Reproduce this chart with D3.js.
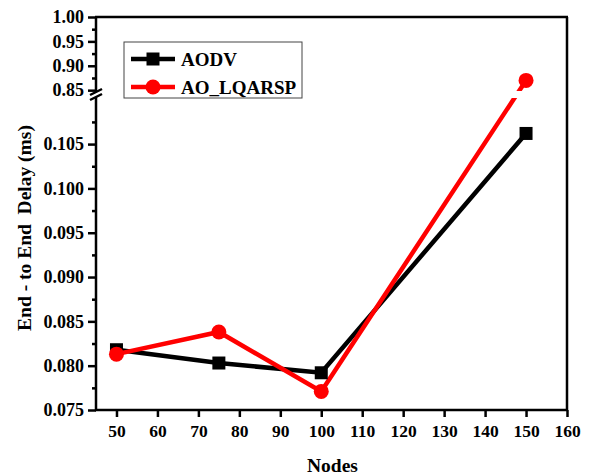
<!DOCTYPE html>
<html>
<head>
<meta charset="utf-8">
<script src="https://cdn.jsdelivr.net/npm/d3@7"></script>
<style>
  body { margin: 0; background: #fff; }
  svg text { font-family: 'Liberation Serif', 'Times New Roman', serif; font-weight: bold; }
</style>
</head>
<body>
<svg id="chart" width="590" height="476"></svg>
<script>
const nodes = [50, 75, 100, 150]
const aodv = [0.0818, 0.0803, 0.0792, 0.1062]
const aoLqarsp = [0.0813, 0.0838, 0.0771, 0.870]
const xTicks = [50, 60, 70, 80, 90, 100, 110, 120, 130, 140, 150, 160]
const lowTicks = [0.075, 0.080, 0.085, 0.090, 0.095, 0.100, 0.105]
const highTicks = [0.85, 0.90, 0.95, 1.00]

const svg = d3.select('#chart')
const pLeft = 96, pRight = 567, pTop = 17, pBottom = 410
const lowTop = 98, highBottom = 91

const x = d3.scaleLinear().domain([45, 160]).range([pLeft, pRight])
const yLow = d3.scaleLinear().domain([0.075, 0.1102]).range([pBottom, lowTop])
const yHigh = d3.scaleLinear().domain([0.8483, 1.0]).range([highBottom, pTop])
const y = v => v > 0.5 ? yHigh(v) : yLow(v)

const defs = svg.append('defs')
defs.append('clipPath').attr('id', 'clip-low')
  .append('rect').attr('x', pLeft).attr('y', lowTop).attr('width', pRight - pLeft).attr('height', pBottom - lowTop)
defs.append('clipPath').attr('id', 'clip-high')
  .append('rect').attr('x', pLeft).attr('y', pTop).attr('width', pRight - pLeft).attr('height', highBottom - pTop)

const series = [
  {name: 'AODV', values: aodv, color: '#000', shape: 'square'},
  {name: 'AO_LQARSP', values: aoLqarsp, color: '#ff0000', shape: 'circle'}
]

const line = d3.line().x((d, i) => x(nodes[i])).y(d => y(d))

// lines, split by the axis break
series.forEach(s => {
  ['clip-low', 'clip-high'].forEach(c => {
    svg.append('path')
      .attr('clip-path', `url(#${c})`)
      .attr('d', line(s.values))
      .attr('fill', 'none')
      .attr('stroke', s.color)
      .attr('stroke-width', 4.5)
  })
})

// markers
series.forEach(s => {
  const g = svg.append('g')
  s.values.forEach((v, i) => {
    if (s.shape === 'square') {
      g.append('rect').attr('x', x(nodes[i]) - 6.5).attr('y', y(v) - 6.5)
        .attr('width', 13).attr('height', 13).attr('fill', s.color)
    } else {
      g.append('circle').attr('cx', x(nodes[i])).attr('cy', y(v)).attr('r', 7.5).attr('fill', s.color)
    }
  })
})

// frame
const axisColor = '#000'
svg.append('line').attr('x1', pLeft - 1).attr('x2', pRight + 1).attr('y1', pTop).attr('y2', pTop)
  .attr('stroke', axisColor).attr('stroke-width', 2.5)
svg.append('line').attr('x1', pRight).attr('x2', pRight).attr('y1', pTop).attr('y2', pBottom)
  .attr('stroke', axisColor).attr('stroke-width', 2.5)
svg.append('line').attr('x1', pLeft - 1).attr('x2', pRight + 1).attr('y1', pBottom).attr('y2', pBottom)
  .attr('stroke', axisColor).attr('stroke-width', 2.5)
svg.append('line').attr('x1', pLeft).attr('x2', pLeft).attr('y1', pTop).attr('y2', highBottom + 1)
  .attr('stroke', axisColor).attr('stroke-width', 2.5)
svg.append('line').attr('x1', pLeft).attr('x2', pLeft).attr('y1', lowTop - 1).attr('y2', pBottom)
  .attr('stroke', axisColor).attr('stroke-width', 2.5)

// break marks
;[highBottom + 1, lowTop - 1].forEach(yy => {
  svg.append('line').attr('x1', pLeft - 6).attr('x2', pLeft + 6).attr('y1', yy + 3).attr('y2', yy - 3)
    .attr('stroke', axisColor).attr('stroke-width', 2.5)
})

// x axis
const xAxis = svg.append('g').attr('transform', `translate(0,${pBottom})`)
  .call(d3.axisBottom(x).tickValues(xTicks).tickSize(7).tickSizeOuter(0).tickPadding(8))
xAxis.select('.domain').remove()
xAxis.selectAll('line').attr('stroke-width', 2.5)
xAxis.selectAll('text').attr('font-size', 17.5).attr('fill', '#000')
  .style('font-family', "'Liberation Serif', serif").style('font-weight', 'bold')

// y axes
function yAxis(scale, major, minor, fmt) {
  const g = svg.append('g').attr('transform', `translate(${pLeft},0)`)
  g.call(d3.axisLeft(scale).tickValues(minor).tickSize(4).tickFormat(''))
  g.select('.domain').remove()
  g.selectAll('line').attr('stroke-width', 2.5)
  const m = svg.append('g').attr('transform', `translate(${pLeft},0)`)
  m.call(d3.axisLeft(scale).tickValues(major).tickSize(8).tickPadding(4).tickFormat(d3.format(fmt)))
  m.select('.domain').remove()
  m.selectAll('line').attr('stroke-width', 2.5)
  m.selectAll('text').attr('font-size', 18).attr('fill', '#000')
    .style('font-family', "'Liberation Serif', serif").style('font-weight', 'bold')
}
yAxis(yLow, lowTicks, [0.0775, 0.0825, 0.0875, 0.0925, 0.0975, 0.1025, 0.1075], '.3f')
yAxis(yHigh, highTicks, [0.875, 0.925, 0.975], '.2f')

// titles
svg.append('text').attr('x', (pLeft + pRight) / 2 + 1).attr('y', 472).attr('text-anchor', 'middle')
  .attr('font-size', 19.5).text('Nodes')
svg.append('text').attr('transform', 'translate(31,228) rotate(-90)').attr('text-anchor', 'middle')
  .attr('font-size', 19.5).attr('xml:space', 'preserve').text('End - to End  Delay (ms)')

// legend
const lg = svg.append('g').attr('transform', 'translate(124,42)')
lg.append('rect').attr('width', 178).attr('height', 56).attr('fill', '#fff')
  .attr('stroke', '#444').attr('stroke-width', 1)
series.forEach((s, i) => {
  const yy = 17 + i * 28
  lg.append('line').attr('x1', 7).attr('x2', 51).attr('y1', yy).attr('y2', yy)
    .attr('stroke', s.color).attr('stroke-width', 4.5)
  if (s.shape === 'square') {
    lg.append('rect').attr('x', 29 - 6.5).attr('y', yy - 6.5).attr('width', 13).attr('height', 13).attr('fill', s.color)
  } else {
    lg.append('circle').attr('cx', 29).attr('cy', yy).attr('r', 7.5).attr('fill', s.color)
  }
  lg.append('text').attr('x', 57).attr('y', yy + 6.5).attr('font-size', 19).text(s.name)
})
</script>
</body>
</html>
